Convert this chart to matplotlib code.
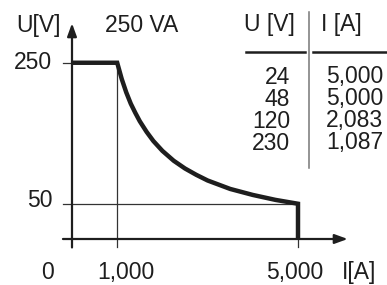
import matplotlib.pyplot as plt

plt.rcParams['font.family'] = ['Liberation Sans', 'DejaVu Sans']

# curve: 250 VA limit
current = [0, 1.0, 1.1, 1.2, 1.3, 1.4, 1.5, 1.65, 1.8, 2.0, 2.25, 2.5, 2.75,
           3.0, 3.5, 4.0, 4.5, 5.0, 5.0]
voltage = [250, 250, 227, 208, 192, 179, 167, 152, 139, 125, 111, 100, 91,
           83, 71, 62.5, 55.5, 50, 0]

# table values
table_u = ['24', '48', '120', '230']
table_i = ['5,000', '5,000', '2,083', '1,087']

x_ticks = [0, 1, 5]
x_tick_labels = ['0', '1,000', '5,000']
y_ticks = [50, 250]
y_tick_labels = ['50', '250']

ink = '#1e1e1e'
thin = '#333333'
fs = 16.5

fig = plt.figure(figsize=(3.87, 2.85), dpi=100)
ax = fig.add_axes([0, 0, 1, 1])
# 0 A at 72 px, 45.2 px per A; 0 V at 239 px, 0.705 px per V
ax.set_xlim(-72 / 45.2, (387 - 72) / 45.2)
ax.set_ylim(-(285 - 239) / 0.705, 239 / 0.705)
ax.axis('off')

# guide lines
ax.plot([1, 1], [-12, 250], color=thin, lw=0.9)
ax.plot([-0.2, 5], [50, 50], color=thin, lw=0.9)
ax.plot([-0.2, 0], [250, 250], color=thin, lw=0.9)
ax.plot([5, 5], [-12, 0], color=thin, lw=0.9)

# axes with arrows
arrow = dict(arrowstyle='-|>,head_length=0.55,head_width=0.2', lw=1.6,
             color=ink, mutation_scale=14, shrinkA=0, shrinkB=0)
ax.annotate('', xy=(0, 306), xytext=(0, -12), arrowprops=arrow)
ax.annotate('', xy=(6.1, 0), xytext=(-0.2, 0), arrowprops=arrow)

# the curve
ax.plot(current, voltage, color=ink, lw=3.2, solid_joinstyle='miter',
        solid_capstyle='butt')

# tick labels
for xt, lab in zip(x_ticks, x_tick_labels):
    off = {0: -0.55, 1: 0.2, 5: -0.07}[xt]
    ax.text(xt + off, -47, lab, ha='center', va='center', fontsize=fs, color=ink)
ax.text(6.35, -47, 'I[A]', ha='center', va='center', fontsize=fs, color=ink)
for yt, lab in zip(y_ticks, y_tick_labels):
    ax.text(-0.44, yt + (5 if yt == 50 else 0), lab, ha='right', va='center',
            fontsize=fs, color=ink)
ax.text(-0.75, 303, 'U[V]', ha='center', va='center', fontsize=fs, color=ink)
ax.text(1.55, 303, '250 VA', ha='center', va='center', fontsize=fs, color=ink)

# table (pixel positions)
def P(x, y):
    return x / 387, 1 - y / 285

tr = ax.transAxes
ax.text(*P(269, 24), 'U [V]', ha='center', va='center', fontsize=fs, color=ink, transform=tr)
ax.text(*P(321, 24), 'I [A]', ha='left', va='center', fontsize=fs, color=ink, transform=tr)
ax.plot(*zip(P(246, 52), P(305, 52)), color=ink, lw=1.8, transform=tr)
ax.plot(*zip(P(313, 52), P(387, 52)), color=ink, lw=1.8, transform=tr)
ax.plot(*zip(P(309, 12), P(309, 168)), color='#777777', lw=1.1, transform=tr)
for k, (u, i) in enumerate(zip(table_u, table_i)):
    y = 77 + k * 22
    ax.text(*P(290, y), u, ha='right', va='center', fontsize=fs, color=ink, transform=tr)
    ax.text(*P(383, y), i, ha='right', va='center', fontsize=fs, color=ink, transform=tr)

fig.savefig('out.png', dpi=100)
